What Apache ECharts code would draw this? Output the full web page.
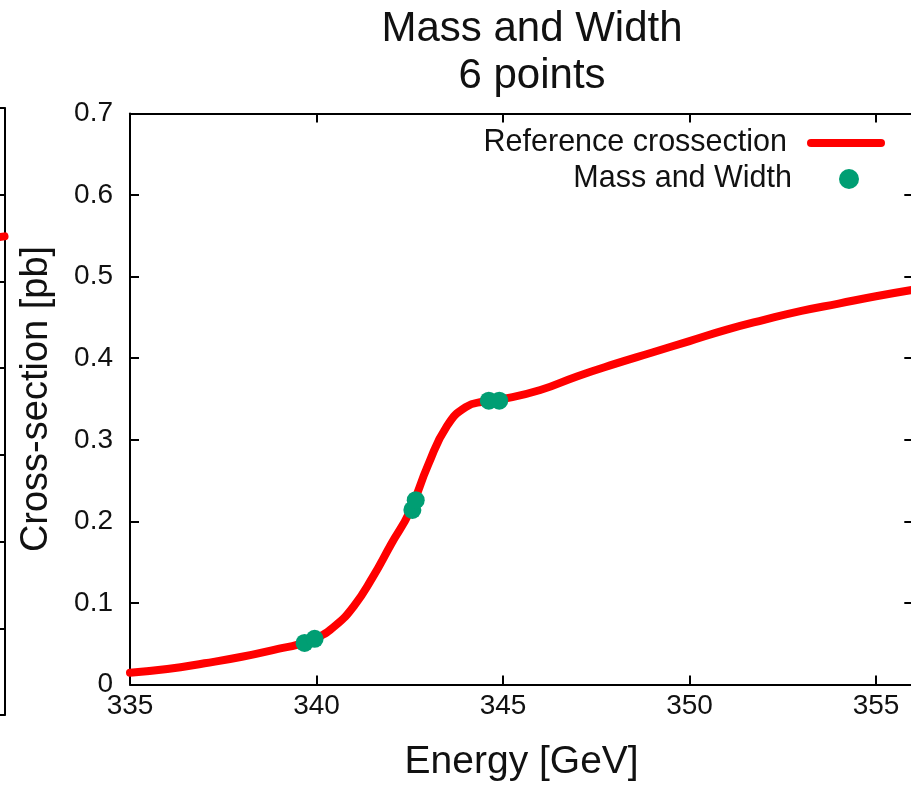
<!DOCTYPE html>
<html>
<head>
<meta charset="utf-8">
<script src="https://cdn.jsdelivr.net/npm/echarts@6/dist/echarts.min.js"></script>
<style>
  html, body { margin: 0; padding: 0; background: #ffffff; }
  #chart { width: 911px; height: 785px; }
</style>
</head>
<body>
<div id="chart"></div>
<script>
// Reference cross-section curve (energy in GeV, cross-section in pb)
const energy = [335, 336, 337, 338, 339, 339.5, 340, 340.5, 341, 341.5,
                342, 342.5, 343, 343.5, 344, 344.5, 345, 346, 347, 348,
                349, 350, 351, 352, 353, 354, 355, 356];
const crossSection = [0.0145, 0.019, 0.026, 0.034, 0.044, 0.049, 0.057, 0.072, 0.096, 0.131,
                      0.172, 0.212, 0.270, 0.317, 0.340, 0.347, 0.350, 0.361, 0.378, 0.393,
                      0.407, 0.421, 0.435, 0.447, 0.458, 0.467, 0.476, 0.484];

// The 6 scan points used for the mass and width fit
const scanEnergy = [339.68, 339.95, 342.57, 342.66, 344.62, 344.90];
const scanCrossSection = [0.051, 0.056, 0.214, 0.226, 0.348, 0.348];

// Right-hand end of the neighbouring panel's curve
const neighbourEnergy = [355.5, 356.0];
const neighbourCrossSection = [0.549, 0.552];

// Axis ticks
const energyTicks = [335, 340, 345, 350, 355];
const crossSectionTicks = [0, 0.1, 0.2, 0.3, 0.4, 0.5, 0.6, 0.7];

const titleLines = ['Mass and Width', '6 points'];
const curveName = 'Reference crossection';
const pointsName = 'Mass and Width';

const FONT = 'Liberation Sans, Arial, Helvetica, sans-serif';
const INK = '#111111';
const RED = '#ff0000';
const GREEN = '#009e73';

const zip = (xs, ys) => xs.map((x, i) => [x, ys[i]]);

const xMin = energyTicks[0];
const xMax = 356;
const xStep = energyTicks[1] - energyTicks[0];
const yMin = crossSectionTicks[0];
const yMax = crossSectionTicks[crossSectionTicks.length - 1];
const yStep = 0.1;

const frameLine = { show: true, onZero: false, lineStyle: { color: '#000', width: 2 } };
const innerTicks = { show: true, inside: true, length: 9, lineStyle: { color: '#000', width: 2 } };

const chart = echarts.init(document.getElementById('chart'), null, { renderer: 'canvas' });

chart.setOption({
  backgroundColor: '#ffffff',
  animation: false,
  textStyle: { fontFamily: FONT },
  title: {
    text: titleLines.join('\n'),
    left: 527,
    top: 1,
    textAlign: 'center',
    textStyle: { fontFamily: FONT, fontSize: 42, fontWeight: 'normal', color: INK, lineHeight: 47 }
  },
  legend: [
    {
      data: [curveName],
      orient: 'vertical',
      right: 21,
      top: 122.5,
      align: 'right',
      itemWidth: 70,
      itemHeight: 20,
      selectedMode: false,
      lineStyle: { width: 8, cap: 'round', color: RED },
      itemStyle: { opacity: 0 },
      textStyle: { fontFamily: FONT, fontSize: 30.5, color: INK, padding: [0, 19, 0, 0] }
    },
    {
      data: [{ name: pointsName, icon: 'circle' }],
      orient: 'vertical',
      right: 47,
      top: 158.5,
      align: 'right',
      itemWidth: 20,
      itemHeight: 20,
      selectedMode: false,
      textStyle: { fontFamily: FONT, fontSize: 30.5, color: INK, padding: [0, 42, 0, 0] }
    }
  ],
  grid: [
    { left: 130, right: -2.3, top: 113.5, bottom: 100.5, containLabel: false, outerBoundsMode: 'none' },
    { left: -780, right: 906.5, top: 108, bottom: 70, containLabel: false, outerBoundsMode: 'none' }
  ],
  xAxis: [
    {
      type: 'value', gridIndex: 0, position: 'bottom',
      min: xMin, max: xMax, interval: xStep,
      axisLine: frameLine, axisTick: innerTicks,
      axisLabel: { fontFamily: FONT, fontSize: 28, color: INK, margin: 8, showMaxLabel: false },
      splitLine: { show: false },
      name: 'Energy [GeV]', nameLocation: 'middle', nameGap: 58,
      nameTextStyle: { fontFamily: FONT, fontSize: 39, color: INK }
    },
    {
      type: 'value', gridIndex: 0, position: 'top',
      min: xMin, max: xMax, interval: xStep,
      axisLine: frameLine, axisTick: innerTicks,
      axisLabel: { show: false }, splitLine: { show: false }
    },
    {
      type: 'value', gridIndex: 1, position: 'bottom',
      min: xMin, max: xMax, interval: xStep,
      axisLine: frameLine, axisTick: { show: false },
      axisLabel: { show: false }, splitLine: { show: false }
    },
    {
      type: 'value', gridIndex: 1, position: 'top',
      min: xMin, max: xMax, interval: xStep,
      axisLine: frameLine, axisTick: { show: false },
      axisLabel: { show: false }, splitLine: { show: false }
    }
  ],
  yAxis: [
    {
      type: 'value', gridIndex: 0, position: 'left',
      min: yMin, max: yMax, interval: yStep,
      axisLine: frameLine, axisTick: innerTicks,
      axisLabel: { fontFamily: FONT, fontSize: 28, color: INK, margin: 17 },
      splitLine: { show: false },
      name: 'Cross-section [pb]', nameLocation: 'middle', nameGap: 74,
      nameTextStyle: { fontFamily: FONT, fontSize: 38, color: INK }
    },
    {
      type: 'value', gridIndex: 0, position: 'right',
      min: yMin, max: yMax, interval: yStep,
      axisLine: frameLine, axisTick: innerTicks,
      axisLabel: { show: false }, splitLine: { show: false }
    },
    {
      type: 'value', gridIndex: 1, position: 'right',
      min: yMin, max: yMax, interval: yStep,
      axisLine: frameLine, axisTick: innerTicks,
      axisLabel: { show: false }, splitLine: { show: false }
    }
  ],
  series: [
    {
      name: curveName, type: 'line', xAxisIndex: 0, yAxisIndex: 0,
      data: zip(energy, crossSection),
      symbol: 'none', smooth: 0.5,
      lineStyle: { color: RED, width: 8, cap: 'round', join: 'round' },
      itemStyle: { color: RED },
      z: 2
    },
    {
      name: pointsName, type: 'scatter', xAxisIndex: 0, yAxisIndex: 0,
      data: zip(scanEnergy, scanCrossSection),
      symbol: 'circle', symbolSize: 18,
      itemStyle: { color: GREEN, opacity: 1 },
      z: 3
    },
    {
      name: curveName + ' ', type: 'line', xAxisIndex: 2, yAxisIndex: 2,
      data: zip(neighbourEnergy, neighbourCrossSection),
      symbol: 'none',
      lineStyle: { color: RED, width: 8, cap: 'round' },
      itemStyle: { color: RED },
      z: 2
    }
  ]
});
</script>
</body>
</html>
